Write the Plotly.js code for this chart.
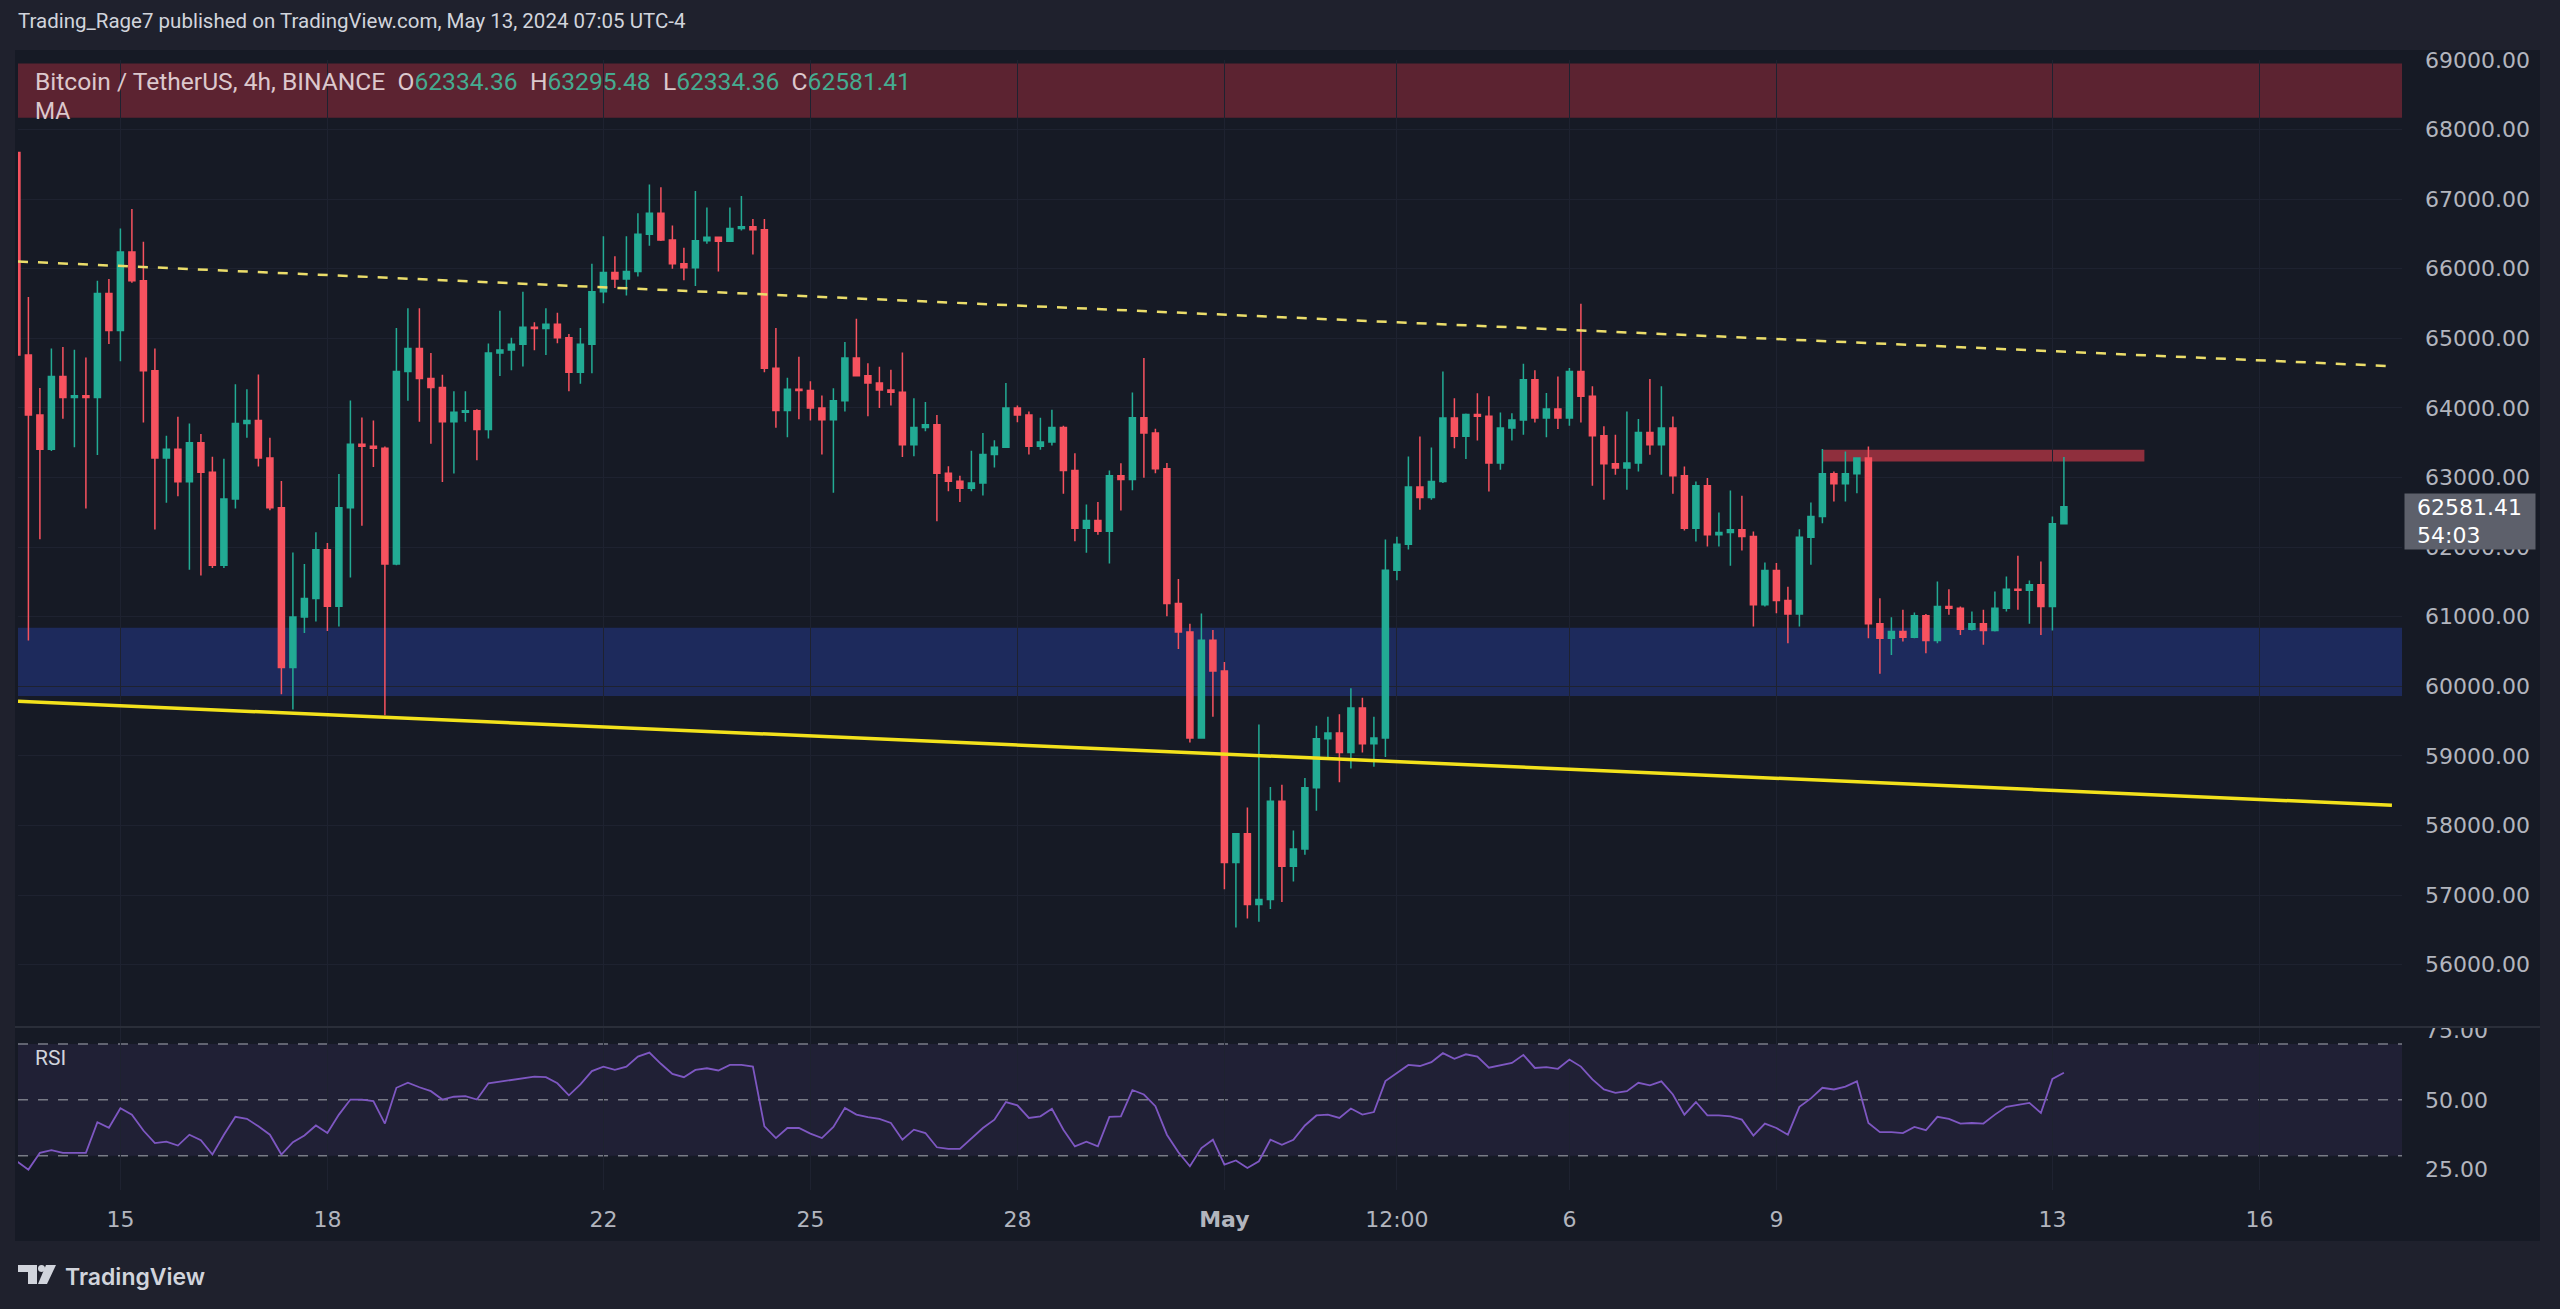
<!DOCTYPE html>
<html><head><meta charset="utf-8">
<script src="https://cdn.plot.ly/plotly-3.0.1.min.js"></script>
<style>html,body{margin:0;padding:0;background:#1f212d;overflow:hidden}#chart{width:2560px;height:1309px}</style>
</head><body><div id="chart"></div>
<script>
// ---- DATA ----
const barStart = '2024-04-13T12:00:00Z';   // first 4h bar (chart time)
const barHours = 4;

const openP = [
67670,64760,63900,63406,64450,64149,64176,64150,65645,65111,
66239,65826,64534,63280,63406,62939,63500,63076,61740,62691,
63775,63819,63280,62565,60271,60995,61261,61960,61151,62565,
63478,63450,63420,61756,64523,64853,64422,64294,63800,63937,
63960,63689,64789,64833,64916,65158,65140,65202,65010,64514,
64916,65670,65945,65851,65961,66495,66798,66412,66071,66016,
66401,66451,66396,66578,66605,66561,64569,63964,64267,64250,
64000,63830,64102,64718,64461,64359,64256,64225,63470,63717,
63758,63060,62946,62844,62921,63332,63434,64000,63897,63450,
63511,63717,63101,62269,62382,62228,63024,62972,63860,63640,
63127,61190,60779,59257,60661,60220,57469,57882,56864,56936,
58349,57414,57662,58542,59246,59329,59048,59686,59175,59257,
61668,62040,62862,62713,62944,63854,63593,63904,63880,63208,
63710,63828,64405,63854,63983,63854,64525,64166,63600,63197,
63135,63207,63648,63470,63710,63025,62272,62881,62176,62210,
62248,62152,61170,61663,61232,61040,62143,62440,63053,62910,
63053,63279,60897,60690,60786,60705,61012,60657,61146,61122,
60820,60897,60801,61122,61395,61380,61457,61146,62334.36];

const highP = [
67700,65595,64286,64853,64875,64836,64726,65826,65854,66580,
66860,66387,64853,63599,63874,63775,63626,63300,63270,64341,
64268,64479,63570,62950,61921,61756,62213,62059,63049,64105,
63863,63820,63445,65150,65434,65434,64789,64476,64239,64239,
63980,64927,65395,65010,65670,65230,65434,65368,65064,65147,
66071,66468,66181,66468,66798,67210,67172,66622,66303,67117,
66880,66456,66880,67045,66715,66715,65147,64432,64734,64384,
64179,64282,64949,65283,64641,64590,64549,64795,64138,64086,
63897,63162,63024,63383,63640,63537,64359,64035,63948,63860,
63974,63742,63347,62613,62649,63101,63204,64220,64718,63700,
63210,61541,60900,61046,60810,60347,57882,58256,59450,58553,
58585,57926,58680,59434,59560,59598,59973,59835,59560,62108,
62150,63302,63590,63430,64525,64140,63920,64210,64166,63935,
63925,64635,64540,64213,64453,64573,65498,64310,63735,63614,
63950,63840,64415,64310,63878,63159,62944,62992,62498,62814,
62737,62224,61780,61770,61430,62257,62641,63408,63087,63375,
63279,63446,61266,60993,61098,61060,61040,61505,61395,61146,
61074,61098,61362,61577,61874,61520,61793,62440,63295.48];

const lowP = [
64600,60656,62114,63380,63846,63434,62554,63324,64919,64671,
65799,63791,62251,62636,62730,61674,61591,61700,61700,62554,
63570,63159,62530,59886,59666,60766,60931,60794,60860,61564,
62306,63150,59583,61740,64103,63800,63486,62935,63056,63800,
63249,63562,64459,64542,64597,64830,64762,64930,64239,64349,
64498,65505,65725,65615,65890,66330,66400,66000,65835,65752,
66358,65961,66385,66550,66204,64514,63716,63579,63838,63820,
63332,62782,63948,64450,63881,64000,64035,63296,63306,63665,
62371,62803,62649,62803,62741,63142,63434,63794,63332,63398,
63460,62767,62084,61920,62177,61765,62525,62818,62998,63060,
61007,60534,59191,59257,59560,57084,56534,56661,56616,56800,
56900,57195,57580,58212,58970,58620,58817,59048,58845,58982,
61525,61965,62536,62680,62920,63420,63265,63533,62800,63112,
63533,63615,63792,63580,63696,63744,63792,62881,62680,63039,
62824,63087,63327,63039,62766,62238,62080,62009,62009,61731,
61951,60858,61145,61050,60619,60858,61745,62344,62655,62655,
62775,60690,60178,60451,60643,60690,60475,60619,61026,60738,
60800,60595,60786,61074,61098,60897,60738,60801,62334.36];

const closeP = [
64760,63900,63406,64450,64149,64176,64150,65645,65111,66239,
65826,64534,63280,63406,62939,63500,63076,61740,62691,63775,
63819,63280,62565,60271,60995,61261,61960,61151,62565,63478,
63450,63420,61756,64523,64853,64422,64294,63800,63937,63960,
63689,64789,64833,64916,65158,65140,65202,65010,64514,64916,
65670,65945,65851,65961,66495,66798,66412,66071,66016,66401,
66451,66396,66578,66605,66561,64569,63964,64267,64250,64000,
63830,64102,64718,64461,64359,64256,64225,63470,63717,63758,
63060,62946,62844,62921,63332,63434,64000,63897,63450,63511,
63717,63101,62269,62382,62228,63024,62972,63860,63640,63127,
61190,60779,59257,60661,60220,57469,57882,56864,56936,58349,
57414,57662,58542,59246,59329,59048,59686,59175,59257,61668,
62040,62862,62713,62944,63854,63593,63904,63880,63208,63710,
63828,64405,63854,63983,63854,64525,64166,63600,63197,63135,
63207,63648,63470,63710,63025,62272,62881,62176,62210,62248,
62152,61170,61663,61232,61040,62143,62440,63053,62910,63053,
63279,60897,60690,60786,60705,61012,60657,61146,61122,60820,
60897,60801,61122,61395,61380,61457,61146,62334.36,62581.41];

const rsiValues = [
28,25,31,32,31,31,31,42,40,47,
44.7,39,34.5,35,33.6,37.5,35.5,30.4,37.5,43.9,
43.2,40.5,37.5,30.4,34.8,37.2,40.8,38.1,44.7,50.1,
50.1,49.5,41.5,54.3,56.1,54.5,53.1,50.1,51.1,51.3,
50.1,55.9,56.5,57.1,57.9,58.3,58.1,55.9,51.6,55.5,
60.3,61.9,60.7,61.9,65.5,66.9,62.9,59.3,58.1,60.7,
61.3,60.5,62.5,62.5,61.9,40.5,36.3,39.9,39.9,37.9,
36.3,40.3,47.1,44.7,43.8,43.2,41.7,35.7,39.3,38.1,
33,32.4,32.4,36.3,39.9,42.9,49.2,48,43.5,44.1,
46.8,39.3,33.3,35,33.3,43.9,44.1,53.5,51.9,47.7,
37.5,31.2,26.2,32.7,35.7,26.8,28.3,25.6,28,35.7,
33.9,35.7,40.8,44.4,44.7,43.5,46.9,44.7,45.6,56.7,
59.5,62.5,62.1,63.5,66.7,64.7,66.3,65.5,61.5,62.3,
63.2,66.1,61.4,61.7,61.1,64.4,61.9,57.3,53.7,52.5,
53.1,56.1,55.2,56.6,51.9,44.7,49.2,44.4,44.4,44.1,
42.9,37.2,41.5,39.9,37.5,47.5,50.5,54.3,53.7,54.7,
56.6,41.7,38.4,38.4,38.1,40.3,39.1,43.9,43.2,41.5,
41.7,41.5,44.7,47.5,48.2,48.9,45.3,57.5,59.7];

const priceTicks = [56000,57000,58000,59000,60000,61000,62000,63000,64000,65000,66000,67000,68000,69000];
const rsiTicks = [25,50,75];
const rsiLevels = [70,50,30];
const dateTickVals = ['2024-04-15','2024-04-18','2024-04-22','2024-04-25','2024-04-28','2024-05-01','2024-05-03 12:00','2024-05-06','2024-05-09','2024-05-13','2024-05-16'];
const dateTickText = ['15','18','22','25','28','<b>May</b>','12:00','6','9','13','16'];

const supplyZone = [68170, 68950];
const demandZone = [59860, 60840];
const resistanceX = ['2024-05-09 16:00','2024-05-14 08:00'];
const resistanceY = [63230, 63400];
const upperTrendX = ['2024-04-13 12:23','2024-05-17 22:06'];
const upperTrendY = [66105, 64600];
const lowerTrendX = ['2024-04-13 12:23','2024-05-17 22:06'];
const lowerTrendY = [59785, 58290];
const timeRange = ['2024-04-13 12:23','2024-05-18 01:36'];
const countdown = '54:03';

// ---- BUILD ----
function pad(n){return (n<10?'0':'')+n;}
const t0 = Date.parse(barStart);
const barTimes = openP.map((_, i) => {
  const d = new Date(t0 + i*barHours*3600000);
  return d.getUTCFullYear()+'-'+pad(d.getUTCMonth()+1)+'-'+pad(d.getUTCDate())+' '+pad(d.getUTCHours())+':'+pad(d.getUTCMinutes());
});
const n = closeP.length;
const f2 = v => v.toFixed(2);

const UP = '#22ab94', DN = '#f7525f';
const PANEL = '#161a25', FRAME = '#1f212d';
const AXF = {family:'DejaVu Sans, sans-serif', size:22, color:'#b2b5be'};

const traces = [
  {type:'candlestick', x:barTimes, open:openP, high:highP, low:lowP, close:closeP,
   xaxis:'x', yaxis:'y',
   increasing:{line:{color:UP,width:1.5}, fillcolor:UP},
   decreasing:{line:{color:DN,width:1.5}, fillcolor:DN},
   whiskerwidth:0, hoverinfo:'skip', showlegend:false},
  {type:'scatter', mode:'lines', x:barTimes, y:rsiValues, xaxis:'x', yaxis:'y2',
   line:{color:'#7e57c2', width:1.8}, hoverinfo:'skip', showlegend:false}
];

const shapes = [
  {type:'rect', xref:'paper', yref:'paper', xsizemode:'pixel', ysizemode:'pixel', xanchor:0, yanchor:0,
   x0:-3, x1:2522, y0:-51, y1:1140, fillcolor:PANEL, line:{width:0}, layer:'below'},
  {type:'rect', xref:'paper', yref:'y', x0:0, x1:1, y0:supplyZone[0], y1:supplyZone[1],
   fillcolor:'#5c2331', line:{width:0}, layer:'below'},
  {type:'rect', xref:'paper', yref:'y', x0:0, x1:1, y0:demandZone[0], y1:demandZone[1],
   fillcolor:'#1d2a5c', line:{width:0}, layer:'below'},
  {type:'rect', xref:'paper', yref:'y2', x0:0, x1:1, y0:rsiLevels[2], y1:rsiLevels[0],
   fillcolor:'rgba(126,87,194,0.10)', line:{width:0}, layer:'below'},
  ...rsiLevels.map(v => ({type:'line', xref:'paper', yref:'y2', x0:0, x1:1, y0:v, y1:v,
   line:{color:'#787b86', width:1.5, dash:'10px,10px'}, layer:'below'})),
  {type:'rect', xref:'x', yref:'y', x0:resistanceX[0], x1:resistanceX[1], y0:resistanceY[0], y1:resistanceY[1],
   fillcolor:'#8f2f3d', line:{width:0}, layer:'below'},
  {type:'line', xref:'x', yref:'y', x0:upperTrendX[0], x1:upperTrendX[1], y0:upperTrendY[0], y1:upperTrendY[1],
   line:{color:'#ebdd6a', width:2.5, dash:'10px,10px'}, layer:'above'},
  {type:'line', xref:'x', yref:'y', x0:lowerTrendX[0], x1:lowerTrendX[1], y0:lowerTrendY[0], y1:lowerTrendY[1],
   line:{color:'#f3e21c', width:3.5}, layer:'above'},
  {type:'rect', xref:'paper', yref:'paper', xsizemode:'pixel', ysizemode:'pixel', xanchor:0, yanchor:0,
   x0:2386, x1:2520, y0:163, y1:180, fillcolor:PANEL, line:{width:0}, layer:'above'},
  {type:'line', xref:'paper', yref:'paper', xsizemode:'pixel', ysizemode:'pixel', xanchor:0, yanchor:0,
   x0:-3, x1:2522, y0:163, y1:163, line:{color:'#2a2e39', width:2}, layer:'above'},
  {type:'path', xref:'paper', yref:'paper', xsizemode:'pixel', ysizemode:'pixel', xanchor:0, yanchor:0,
   path:'M0,-75 L19,-75 L19,-94 L10,-94 L10,-82 L0,-82 Z', fillcolor:'#d1d4dc', line:{width:0}, layer:'above'},
  {type:'circle', xref:'paper', yref:'paper', xsizemode:'pixel', ysizemode:'pixel', xanchor:0, yanchor:0,
   x0:20, x1:27, y0:-75, y1:-82, fillcolor:'#d1d4dc', line:{width:0}, layer:'above'},
  {type:'path', xref:'paper', yref:'paper', xsizemode:'pixel', ysizemode:'pixel', xanchor:0, yanchor:0,
   path:'M28,-75 L38,-75 L29,-94 L20,-94 Z', fillcolor:'#d1d4dc', line:{width:0}, layer:'above'}
];

const lbl = '#dcc8cd', val = '#45ab90';
const sp = '\u00a0\u00a0';
const legendText = 'Bitcoin / TetherUS, 4h, BINANCE' + sp +
  'O<span style="color:'+val+'">'+f2(openP[n-1])+'</span>'+sp+
  'H<span style="color:'+val+'">'+f2(highP[n-1])+'</span>'+sp+
  'L<span style="color:'+val+'">'+f2(lowP[n-1])+'</span>'+sp+
  'C<span style="color:'+val+'">'+f2(closeP[n-1])+'</span>';
const lead = '\u2002';

const annotations = [
  {xref:'paper', yref:'paper', x:0, y:1, xshift:-2, yshift:39, xanchor:'left', yanchor:'middle', showarrow:false,
   text:'Trading_Rage7 published on TradingView.com, May 13, 2024 07:05 UTC-4',
   font:{family:'Roboto, sans-serif', size:20.5, color:'#d1d4dc'}},
  {xref:'paper', yref:'paper', x:0, y:1, xshift:15, yshift:-21, xanchor:'left', yanchor:'middle', showarrow:false,
   text:legendText, font:{family:'Roboto, sans-serif', size:24.6, color:lbl}},
  {xref:'paper', yref:'paper', x:0, y:1, xshift:15, yshift:-51, xanchor:'left', yanchor:'middle', showarrow:false,
   text:'MA', font:{family:'Roboto, sans-serif', size:23, color:lbl}},
  {xref:'paper', yref:'paper', x:0, y:0, xshift:15, yshift:132, xanchor:'left', yanchor:'middle', showarrow:false,
   text:'RSI', font:{family:'Roboto, sans-serif', size:21, color:'#d1d4dc'}},
  {xref:'paper', yref:'y', x:1, y:closeP[n-1], xshift:2, yshift:-15, xanchor:'left', yanchor:'middle', showarrow:false,
   text:lead+f2(closeP[n-1])+'<br>'+lead+countdown, align:'left', width:128, height:53, borderpad:1,
   bgcolor:'#5d606b', font:{family:'DejaVu Sans, sans-serif', size:22, color:'#ffffff'}},
  {xref:'paper', yref:'paper', x:0, y:0, xshift:45, yshift:-87, xanchor:'left', yanchor:'middle', showarrow:false,
   text:'TradingView', font:{family:'Inter, sans-serif', size:23, color:'#d1d4dc', weight:600}}
];

const layout = {
  width:2560, height:1309,
  margin:{l:18, r:158, t:60, b:119},
  paper_bgcolor:FRAME, plot_bgcolor:'rgba(0,0,0,0)',
  showlegend:false, hovermode:false, boxgap:0.25,
  xaxis:{type:'date', domain:[0,1], anchor:'y2', range:timeRange, rangeslider:{visible:false},
    tickvals:dateTickVals, ticktext:dateTickText, tickfont:AXF, ticks:'', ticklabelstandoff:14,
    showgrid:true, gridcolor:'#1e2230', gridwidth:1, zeroline:false, showline:false},
  yaxis:{domain:[0.1451,1], range:[55117,69000], side:'right', anchor:'x',
    tickvals:priceTicks, tickformat:'.2f', tickfont:AXF, ticks:'', ticklabelstandoff:22,
    showgrid:true, gridcolor:'#1e2230', gridwidth:1, zeroline:false, showline:false},
  yaxis2:{domain:[0,0.1434], range:[17.7,75.73], side:'right', anchor:'x',
    tickvals:rsiTicks, tickformat:'.2f', tickfont:AXF, ticks:'', ticklabelstandoff:22,
    showgrid:false, zeroline:false, showline:false},
  shapes:shapes, annotations:annotations
};

Plotly.newPlot('chart', traces, layout, {displayModeBar:false, staticPlot:true});
</script>
</body></html>
